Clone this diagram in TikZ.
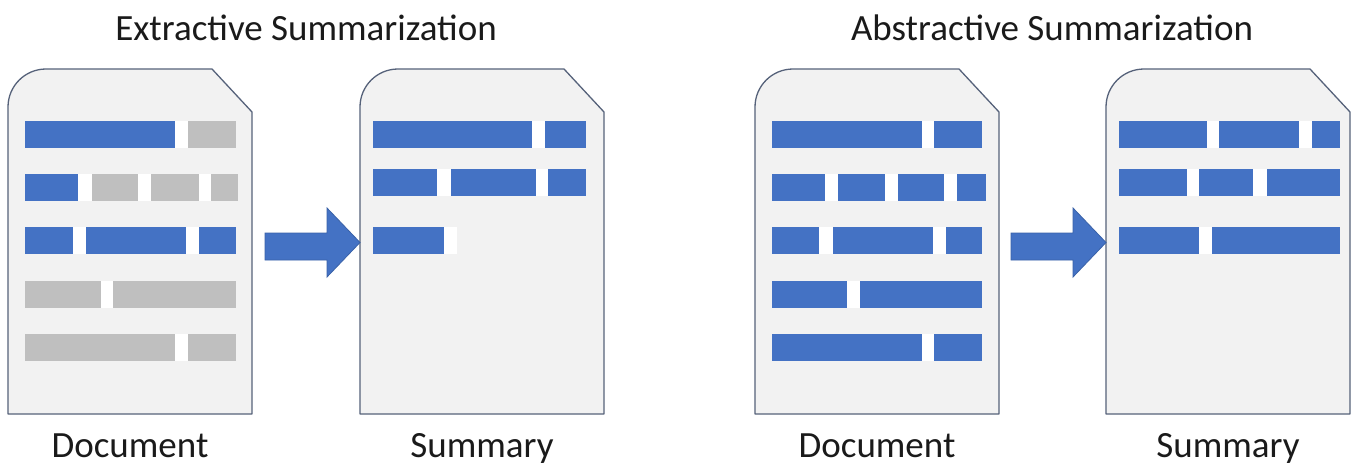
\documentclass[tikz,border=0pt]{standalone}
\usepackage{fontspec}
\setmainfont{Carlito}
\definecolor{barblue}{HTML}{4472C4}
\definecolor{bargray}{HTML}{BFBFBF}
\definecolor{pagefill}{HTML}{F2F2F2}
\definecolor{pageline}{HTML}{56627A}
\definecolor{arrowline}{HTML}{3A62A8}
\definecolor{inktext}{HTML}{1A1A1A}
\tikzset{
  page/.style={fill=pagefill, draw=pageline, line width=1.3pt, line join=round},
  bluebar/.style={fill=barblue},
  graybar/.style={fill=bargray},
  gapbar/.style={fill=white},
  blockarrow/.style={fill=barblue, draw=arrowline, line width=0.8pt, line join=miter},
  caption/.style={anchor=base, inner sep=0pt, text=inktext, font=\fontsize{37}{44}\selectfont},
}
% a sheet of paper with a rounded top-left corner and a clipped top-right corner
\newcommand\sheet[1]{%
  \begin{scope}[shift={(#1,69)}]
    \draw[page] (0,345) -- (0,38) .. controls (0,17) and (17,0) .. (38,0)
      -- (204,0) -- (244,43) -- (244,345) -- cycle;
  \end{scope}}
% a text line: white backing strip, then its words
\newcommand\strip[3]{\fill[gapbar] (#1,#3) rectangle (#2,#3+27);}
\newcommand\word[4][bluebar]{\fill[#1] (#2,#4) rectangle (#3,#4+27);}
\begin{document}
\begin{tikzpicture}[x=1pt, y=-1pt]
  \fill[white] (0,0) rectangle (1351,466);
  \useasboundingbox (0,0) rectangle (1351,466);

  % ---------------- extractive ----------------
  \sheet{8}
  \sheet{360}
  \coordinate (exdoc) at (130,241);
  \coordinate (exsum) at (482,241);

  % source document
  \strip{25}{236}{121}
  \word{25}{175}{121} \word[graybar]{188}{236}{121}
  \strip{25}{238}{174}
  \word{25}{78}{174} \word[graybar]{92}{138}{174} \word[graybar]{151}{199}{174} \word[graybar]{211}{238}{174}
  \strip{25}{236}{227}
  \word{25}{73}{227} \word{86}{186}{227} \word{199}{236}{227}
  \strip{25}{236}{281}
  \word[graybar]{25}{101}{281} \word[graybar]{113}{236}{281}
  \strip{25}{236}{334}
  \word[graybar]{25}{175}{334} \word[graybar]{188}{236}{334}

  % extracted summary
  \strip{373}{586}{121}
  \word{373}{532}{121} \word{545}{586}{121}
  \strip{373}{586}{169}
  \word{373}{437}{169} \word{451}{536}{169} \word{548}{586}{169}
  \strip{373}{457}{227}
  \word{373}{444}{227}

  \draw[blockarrow] (265,233) -- (327,233) -- (327,208) -- (360,242.5)
    -- (327,277) -- (327,260) -- (265,260) -- cycle;

  \node[caption] (extitle) at (306,40) {Extractive Summarization};
  \node[caption] (exdoclabel) at (130,457) {Document};
  \node[caption] (exsumlabel) at (482,457) {Summary};

  % ---------------- abstractive ----------------
  \sheet{755}
  \sheet{1106}
  \coordinate (abdoc) at (877,241);
  \coordinate (absum) at (1228,241);

  % source document
  \strip{772}{982}{121}
  \word{772}{922}{121} \word{934}{982}{121}
  \strip{772}{986}{174}
  \word{772}{825}{174} \word{838}{885}{174} \word{898}{944}{174} \word{957}{986}{174}
  \strip{772}{982}{227}
  \word{772}{819}{227} \word{833}{933}{227} \word{946}{982}{227}
  \strip{772}{982}{281}
  \word{772}{847}{281} \word{860}{982}{281}
  \strip{772}{982}{334}
  \word{772}{922}{334} \word{934}{982}{334}

  % rewritten summary
  \strip{1119}{1340}{121}
  \word{1119}{1207}{121} \word{1219}{1299}{121} \word{1312}{1340}{121}
  \strip{1119}{1340}{169}
  \word{1119}{1187}{169} \word{1199}{1253}{169} \word{1267}{1340}{169}
  \strip{1119}{1340}{227}
  \word{1119}{1199}{227} \word{1212}{1340}{227}

  \draw[blockarrow] (1011,233) -- (1073,233) -- (1073,208) -- (1106,242.5)
    -- (1073,277) -- (1073,260) -- (1011,260) -- cycle;

  \node[caption] (abtitle) at (1052,40) {Abstractive Summarization};
  \node[caption] (abdoclabel) at (877,457) {Document};
  \node[caption] (absumlabel) at (1228,457) {Summary};
\end{tikzpicture}
\end{document}
